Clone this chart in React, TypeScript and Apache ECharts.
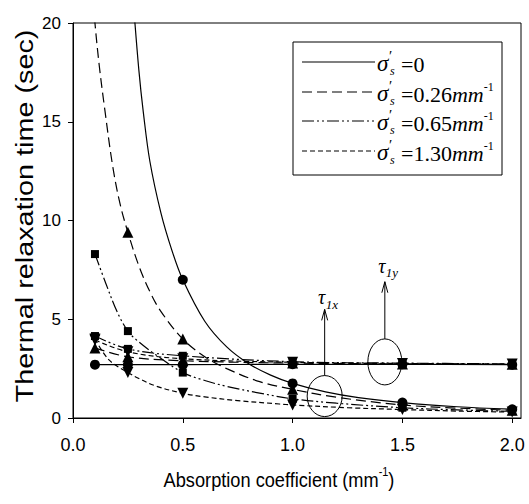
import React, { useEffect, useRef } from "react";
import * as echarts from "echarts";

// ---------- data ----------
const xTicks = [0, 0.5, 1.0, 1.5, 2.0];
const yTicks = [0, 5, 10, 15, 20];
const sigmaValues = ["0", "0.26", "0.65", "1.30"];
const seriesNames = ["σ's=0", "σ's=0.26mm-1", "σ's=0.65mm-1", "σ's=1.30mm-1"];
const markerX = [0.1, 0.25, 0.5, 1.0, 1.5, 2.0];

// tau_1x markers (null = off chart)
const tau1xSigma0 = [null, null, 7.0, 1.75, 0.78, 0.44];
const tau1xSigma026 = [null, 9.4, 4.0, 1.45, 0.66, 0.39];
const tau1xSigma065 = [8.3, 4.4, 2.3, 0.97, 0.52, 0.34];
const tau1xSigma130 = [4.0, 2.3, 1.25, 0.66, 0.43, 0.3];

// tau_1y markers
const tau1ySigma0 = [2.7, 2.7, 2.7, 2.72, 2.72, 2.7];
const tau1ySigma026 = [3.55, 3.1, 2.9, 2.78, 2.74, 2.72];
const tau1ySigma065 = [4.15, 3.5, 3.15, 2.85, 2.78, 2.74];
const tau1ySigma130 = [3.95, 3.35, 3.0, 2.82, 2.76, 2.73];

// tau_1x fitted curves [x, y]
const curveSigma0 = [
  [0.275, 21], [0.3, 17.6], [0.32, 15.5], [0.35, 13.0], [0.4, 10.4], [0.45, 8.5],
  [0.5, 7.0], [0.6, 4.9], [0.7, 3.6], [0.8, 2.75], [0.9, 2.17], [1.0, 1.75],
  [1.15, 1.32], [1.3, 1.03], [1.5, 0.78], [1.75, 0.57], [2.0, 0.44],
];
const curveSigma026 = [
  [0.095, 21], [0.1, 20.0], [0.12, 17.8], [0.145, 15.6], [0.18, 12.8], [0.213, 10.9],
  [0.25, 9.4], [0.3, 7.7], [0.35, 6.4], [0.4, 5.4], [0.5, 4.0], [0.6, 3.1],
  [0.7, 2.5], [0.85, 1.84], [1.0, 1.45], [1.2, 1.05], [1.5, 0.66], [1.75, 0.5], [2.0, 0.39],
];
const curveSigma065 = [
  [0.1, 8.3], [0.15, 6.8], [0.2, 5.4], [0.25, 4.4], [0.3, 3.85], [0.377, 3.2],
  [0.5, 2.3], [0.6, 1.9], [0.7, 1.6], [0.85, 1.26], [1.0, 0.97], [1.2, 0.75],
  [1.5, 0.52], [1.75, 0.41], [2.0, 0.34],
];
const curveSigma130 = [
  [0.1, 4.0], [0.164, 2.94], [0.25, 2.3], [0.3, 2.0], [0.377, 1.62], [0.5, 1.25],
  [0.6, 1.07], [0.75, 0.88], [0.94, 0.71], [1.0, 0.66], [1.25, 0.52], [1.5, 0.43],
  [1.75, 0.35], [2.0, 0.3],
];

// annotation anchors (data coords)
const tau1xNote = { x: 1.146, y: 1.11, arrowTop: 5.5, label: "1x" };
const tau1yNote = { x: 1.42, y: 2.84, arrowTop: 6.9, label: "1y" };

// ---------- styles ----------
const SANS = "'Liberation Sans Narrow', 'Liberation Sans', Arial, sans-serif";
const SANS_W = "'Liberation Sans', Arial, sans-serif";
const SERIF = "'Liberation Serif', 'Times New Roman', serif";
const dashes: number[][] = [[], [10, 5], [12, 3, 2, 3, 2, 3], [5, 3]];
const symbols = ["circle", "triangle", "rect", "triangle"];
const symbolRot = [0, 0, 0, 180];
const symbolSizes = [10, 11, 8, 11];

export default function App() {
  const ref = useRef<HTMLDivElement>(null);
  useEffect(() => {
    document.body.style.margin = "0";
    const chart = echarts.init(ref.current!, null, { renderer: "svg" });
    const tau1x = [tau1xSigma0, tau1xSigma026, tau1xSigma065, tau1xSigma130];
    const tau1y = [tau1ySigma0, tau1ySigma026, tau1ySigma065, tau1ySigma130];
    const curves = [curveSigma0, curveSigma026, curveSigma065, curveSigma130];
    const series: any[] = [];
    for (let i = 0; i < 4; i++) {
      const ls = { color: "#000", width: 1.2, type: dashes[i].length ? dashes[i] : "solid" };
      series.push({
        type: "line", name: seriesNames[i], data: curves[i], symbol: "none",
        smooth: 0.35, lineStyle: ls, silent: true, z: 2,
      });
      series.push({
        type: "line", name: seriesNames[i], data: markerX.map((x, j) => [x, tau1y[i][j]]),
        symbol: "none", smooth: 0.35, lineStyle: ls, silent: true, z: 2,
      });
      series.push({
        type: "scatter", name: seriesNames[i],
        data: markerX.map((x, j) => [x, tau1x[i][j]]).filter((p) => p[1] != null),
        symbol: symbols[i], symbolSize: symbolSizes[i], symbolRotate: symbolRot[i],
        itemStyle: { color: "#000", opacity: 1 }, silent: true, z: 3,
      });
      series.push({
        type: "scatter", name: seriesNames[i],
        data: markerX.map((x, j) => [x, tau1y[i][j]]),
        symbol: symbols[i], symbolSize: symbolSizes[i], symbolRotate: symbolRot[i],
        itemStyle: { color: "#000", opacity: 1 }, silent: true, z: 3,
      });
    }
    chart.setOption({
      animation: false,
      grid: {
        left: 73, right: 8, top: 23, bottom: 86, show: true,
        borderColor: "#000", borderWidth: 1, backgroundColor: "transparent",
      },
      xAxis: {
        type: "value", min: 0, max: 2.04, interval: 0.5,
        axisLine: { show: true, onZero: false, lineStyle: { color: "#000", width: 1 } },
        axisTick: { show: true, length: 5, inside: false, lineStyle: { color: "#000" }, customValues: xTicks },
        axisLabel: {
          customValues: xTicks, formatter: (v: number) => v.toFixed(1),
          fontSize: 18, color: "#000", margin: 18, fontFamily: SANS,
        },
        splitLine: { show: false },
      },
      yAxis: {
        type: "value", min: 0, max: 20, interval: 5,
        axisLine: { show: true, onZero: false, lineStyle: { color: "#000", width: 1 } },
        axisTick: { show: true, length: 5, inside: false, lineStyle: { color: "#000" }, customValues: yTicks },
        axisLabel: {
          customValues: yTicks, formatter: (v: number) => String(v),
          fontSize: 17, color: "#000", margin: 12, fontFamily: SANS,
        },
        splitLine: { show: false },
      },
      series,
    });

    const px = (x: number, y: number) =>
      chart.convertToPixel({ xAxisIndex: 0, yAxisIndex: 0 }, [x, y]) as number[];

    const graphic: any[] = [];
    // axis titles
    graphic.push({
      type: "text", x: 25, y: 216, rotation: Math.PI / 2, scaleX: 1.2,
      style: {
        text: "Thermal relaxation time (sec)", fontSize: 24, fontFamily: SANS_W,
        fill: "#000", align: "center", verticalAlign: "middle",
      },
    });
    graphic.push({
      type: "text", x: 279, y: 478, scaleX: 0.91,
      style: {
        text: "{a|Absorption coefficient (mm}{u|-1}{a|)}", fill: "#000",
        align: "center", verticalAlign: "middle",
        rich: {
          a: { fontSize: 20, fontFamily: SANS_W, lineHeight: 24, verticalAlign: "bottom", fill: "#000" },
          u: { fontSize: 12, fontFamily: SANS_W, lineHeight: 12, verticalAlign: "top", fill: "#000" },
        },
      },
    });

    // legend
    const boxX = 293, boxY = 42, boxW = 209, boxH = 133;
    graphic.push({
      type: "rect", shape: { x: boxX, y: boxY, width: boxW, height: boxH },
      style: { fill: "#fff", stroke: "#000", lineWidth: 1 }, z: 10,
    });
    const rowY = [62, 92, 121, 151];
    for (let i = 0; i < 4; i++) {
      const y = rowY[i];
      graphic.push({
        type: "line", shape: { x1: 302, y1: y, x2: 375, y2: y },
        style: { stroke: "#000", lineWidth: 1.2, lineDash: dashes[i].length ? dashes[i] : null }, z: 11,
      });
      graphic.push({
        type: "text", x: 377, y: y + 1, z: 11,
        style: { text: "σ", fontSize: 23, fontStyle: "italic", fontFamily: SERIF, fill: "#000", align: "left", verticalAlign: "middle" },
      });
      graphic.push({
        type: "text", x: 389, y: y - 6, z: 11,
        style: { text: "′", fontSize: 15, fontFamily: SERIF, fill: "#000", align: "left", verticalAlign: "middle" },
      });
      graphic.push({
        type: "text", x: 390, y: y + 9, z: 11,
        style: { text: "s", fontSize: 12, fontStyle: "italic", fontFamily: SERIF, fill: "#000", align: "left", verticalAlign: "middle" },
      });
      const rest = i === 0 ? "{n|=0}" : `{n|=${sigmaValues[i]}}{i|mm}{u|-1}`;
      graphic.push({
        type: "text", x: 401, y: y + 1, z: 11,
        style: {
          text: rest, align: "left", verticalAlign: "middle", fill: "#000",
          rich: {
            n: { fontSize: 22, fontFamily: SERIF, lineHeight: 24, verticalAlign: "bottom", fill: "#000" },
            i: { fontSize: 22, fontFamily: SERIF, fontStyle: "italic", lineHeight: 24, verticalAlign: "bottom", fill: "#000" },
            u: { fontSize: 12, fontFamily: SERIF, lineHeight: 12, verticalAlign: "top", fill: "#000" },
          },
        },
      });
    }

    // annotations
    const notes = [
      { ...tau1xNote, rx: 17.5, ry: 20.5, labelGap: 12 },
      { ...tau1yNote, rx: 17, ry: 23, labelGap: 16 },
    ];
    notes.forEach((n) => {
      const [cx, cy] = px(n.x, n.y);
      const top = px(n.x, n.arrowTop)[1];
      graphic.push({
        type: "ellipse", shape: { cx, cy, rx: n.rx, ry: n.ry },
        style: { fill: "none", stroke: "#000", lineWidth: 1 }, z: 12,
      });
      graphic.push({
        type: "line", shape: { x1: cx, y1: cy - n.ry, x2: cx, y2: top },
        style: { stroke: "#000", lineWidth: 1 }, z: 12,
      });
      graphic.push({
        type: "polyline", shape: { points: [[cx - 3, top + 11], [cx, top], [cx + 3, top + 11]] },
        style: { stroke: "#000", lineWidth: 1, fill: "none" }, z: 12,
      });
      graphic.push({
        type: "text", x: cx - 3, y: top - n.labelGap, z: 12,
        style: { text: "τ", fontSize: 20, fontStyle: "italic", fontFamily: SERIF, fill: "#000", align: "center", verticalAlign: "middle" },
      });
      graphic.push({
        type: "text", x: cx + 1, y: top - n.labelGap + 7, z: 12,
        style: { text: n.label, fontSize: 13, fontStyle: "italic", fontFamily: SERIF, fill: "#000", align: "left", verticalAlign: "middle" },
      });
    });

    chart.setOption({ graphic });
    return () => chart.dispose();
  }, []);
  return <div ref={ref} style={{ width: 529, height: 504 }} />;
}
